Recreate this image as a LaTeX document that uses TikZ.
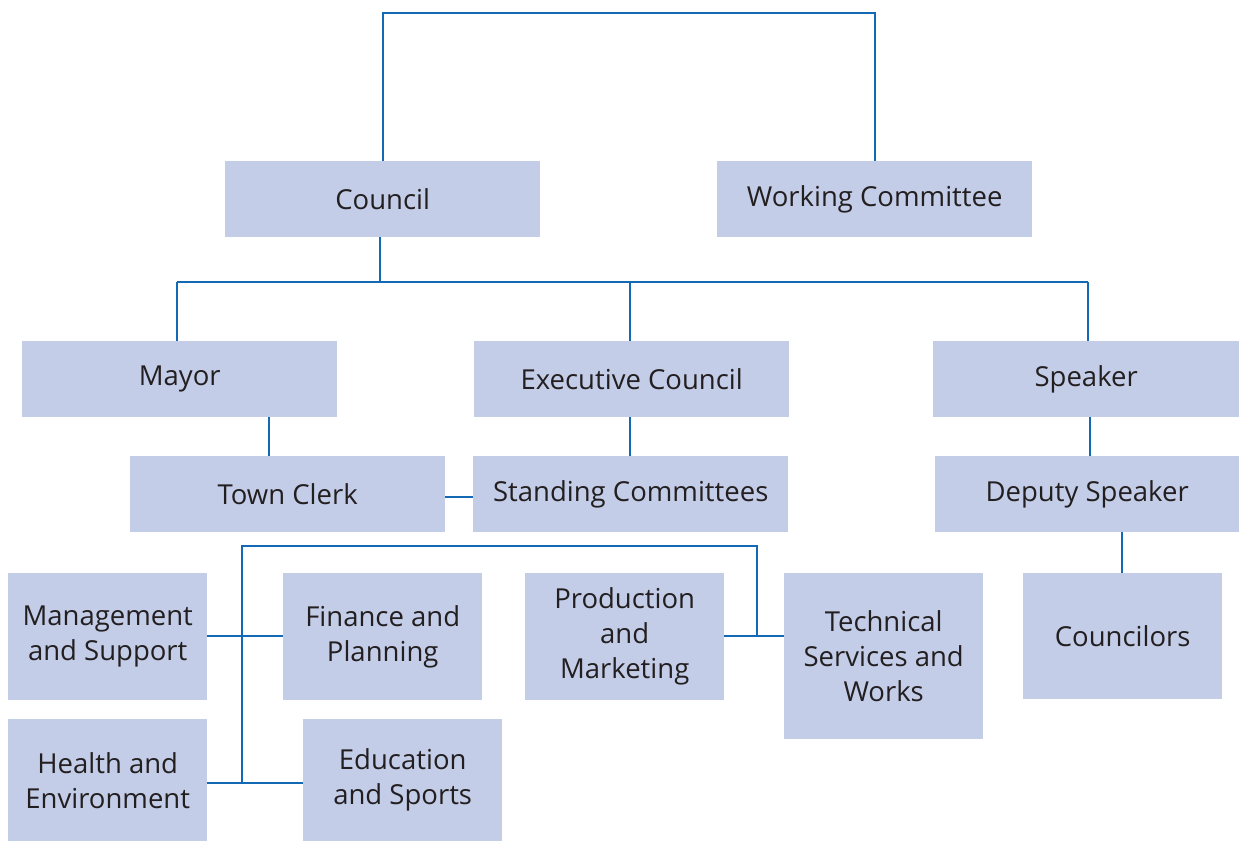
\documentclass[tikz,border=0pt]{standalone}
\usepackage{fontspec}
\setmainfont{Open Sans}
\begin{document}
\begin{tikzpicture}[x=1pt,y=-1pt,
  box/.style={fill=boxfill, draw=none, inner sep=0pt, anchor=north west, align=center,
    font=\fontsize{27.5}{35}\selectfont, text=txt},
  conn/.style={draw=linec, line width=1.6pt}]
\definecolor{boxfill}{RGB}{195,205,232}
\definecolor{linec}{RGB}{20,105,180}
\definecolor{txt}{RGB}{35,31,32}
\useasboundingbox (0,0) rectangle (1239,841);
% boxes
\node[box, minimum width=315, minimum height=76] (council) at (225,161) {Council};
\node[box, minimum width=315, minimum height=76] (wc) at (717,161) {Working Committee};
\node[box, minimum width=315, minimum height=76] (mayor) at (22,341) {Mayor};
\node[box, minimum width=315, minimum height=76] (exec) at (474,341) {Executive Council};
\node[box, minimum width=306, minimum height=76] (speaker) at (933,341) {Speaker};
\node[box, minimum width=315, minimum height=76] (clerk) at (130,456) {Town Clerk};
\node[box, minimum width=315, minimum height=76] (standing) at (473,456) {Standing Committees};
\node[box, minimum width=304, minimum height=76] (deputy) at (935,456) {Deputy Speaker};
\node[box, minimum width=199, minimum height=126] (councilors) at (1023,573) {Councilors};
\node[box, minimum width=199, minimum height=127] (mgmt) at (8,573) {Management\\and Support};
\node[box, minimum width=199, minimum height=127] (fin) at (283,573) {Finance and\\Planning};
\node[box, minimum width=199, minimum height=122] (health) at (8,719) {Health and\\Environment};
\node[box, minimum width=199, minimum height=122] (edu) at (303,719) {Education\\and Sports};
\node[box, minimum width=199, minimum height=127] (prod) at (525,573) {Production\\and\\Marketing};
\node[box, minimum width=199, minimum height=166] (tech) at (784,573) {Technical\\Services and\\Works};
% coordinates
\coordinate (top1) at (383,13);
\coordinate (top2) at (875,13);
\coordinate (cb) at (380,282);
\coordinate (busL) at (177,282);
\coordinate (busM) at (630,282);
\coordinate (busR) at (1088,282);
\coordinate (dA) at (242,546);
\coordinate (dB) at (757,546);
\coordinate (dC) at (757,636);
\coordinate (dD) at (242,636);
\coordinate (dE) at (242,783);
% connectors
\draw[conn] (council.north -| top1) -- (top1) -- (top2) -- (wc.north -| top2);
\draw[conn] (council.south -| cb) -- (cb);
\draw[conn] (busL) -- (busR);
\draw[conn] (busL) -- (mayor.north -| busL);
\draw[conn] (busM) -- (exec.north -| busM);
\draw[conn] (busR) -- (speaker.north -| busR);
\draw[conn] (mayor.south -| 269,0) -- (clerk.north -| 269,0);
\draw[conn] (exec.south -| 630,0) -- (standing.north -| 630,0);
\draw[conn] (clerk.east |- 0,497) -- (standing.west |- 0,497);
\draw[conn] (speaker.south -| 1090,0) -- (deputy.north -| 1090,0);
\draw[conn] (deputy.south -| 1122,0) -- (councilors.north -| 1122,0);
\draw[conn] (dE) -- (dA) -- (dB) -- (dC);
\draw[conn] (prod.east |- dC) -- (tech.west |- dC);
\draw[conn] (mgmt.east |- dD) -- (fin.west |- dD);
\draw[conn] (health.east |- dE) -- (edu.west |- dE);
\end{tikzpicture}
\end{document}
